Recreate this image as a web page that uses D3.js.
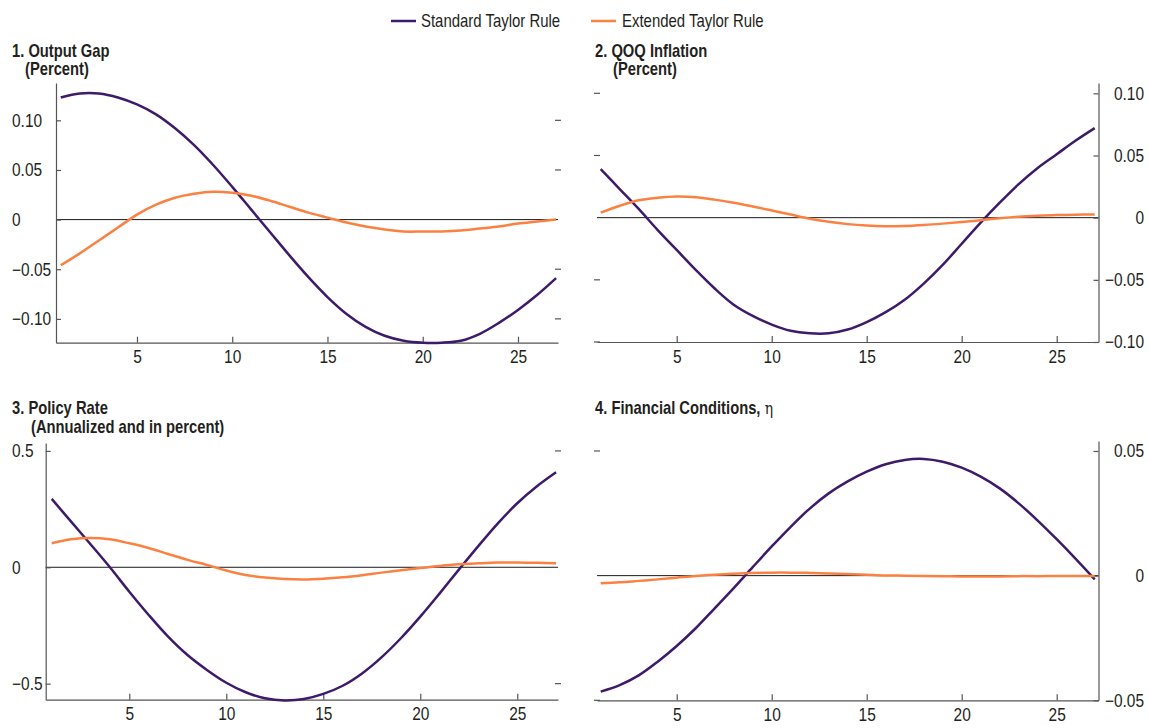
<!DOCTYPE html>
<html>
<head>
<meta charset="utf-8">
<script src="https://cdn.jsdelivr.net/npm/d3@7"></script>
<style>
  body { margin: 0; background: #fff; }
  svg text { font-family: "Liberation Sans", Arial, Helvetica, sans-serif; fill: #231f20; }
</style>
</head>
<body>
<div id="chart"></div>
<script>
// quarters after the shock
const quarters = [1,2,3,4,5,6,7,8,9,10,11,12,13,14,15,16,17,18,19,20,21,22,23,24,25,26,27];
const xTicks = [5, 10, 15, 20, 25];

const seriesNames = ['Standard Taylor Rule', 'Extended Taylor Rule'];
const seriesColors = ['#3d1a6a', '#fb8142'];

// 1. Output gap (percent)
const outputGapStd = [0.123,0.127,0.127,0.123,0.116,0.106,0.092,0.075,0.055,0.033,0.010,-0.013,-0.036,-0.058,-0.078,-0.095,-0.108,-0.117,-0.122,-0.124,-0.124,-0.122,-0.115,-0.104,-0.091,-0.076,-0.059];
const outputGapExt = [-0.046,-0.034,-0.021,-0.008,0.005,0.015,0.022,0.026,0.028,0.027,0.024,0.019,0.013,0.007,0.002,-0.003,-0.007,-0.010,-0.012,-0.012,-0.012,-0.011,-0.009,-0.007,-0.004,-0.002,0.000];
const outputGapTicks = [-0.10, -0.05, 0, 0.05, 0.10];

// 2. QOQ inflation (percent)
const inflationStd = [0.039,0.023,0.007,-0.010,-0.026,-0.042,-0.057,-0.070,-0.079,-0.086,-0.091,-0.093,-0.093,-0.090,-0.084,-0.076,-0.066,-0.053,-0.038,-0.021,-0.004,0.012,0.027,0.040,0.051,0.062,0.072];
const inflationExt = [0.004,0.0096,0.014,0.016,0.017,0.0165,0.0145,0.012,0.009,0.0058,0.0025,-0.0008,-0.0033,-0.0052,-0.0064,-0.0069,-0.0067,-0.0059,-0.0048,-0.0035,-0.0020,-0.0005,0.0007,0.0015,0.0021,0.0024,0.0025];
const inflationTicks = [-0.10, -0.05, 0, 0.05, 0.10];

// 3. Policy rate (annualized, percent)
const policyStd = [0.294,0.196,0.099,0.0,-0.105,-0.205,-0.298,-0.377,-0.441,-0.496,-0.537,-0.563,-0.572,-0.566,-0.544,-0.509,-0.456,-0.387,-0.305,-0.212,-0.112,-0.009,0.092,0.189,0.275,0.347,0.408];
const policyExt = [0.103,0.120,0.126,0.120,0.103,0.083,0.057,0.032,0.010,-0.014,-0.033,-0.044,-0.050,-0.052,-0.049,-0.043,-0.034,-0.023,-0.013,-0.003,0.006,0.013,0.017,0.020,0.020,0.019,0.017];
const policyTicks = [-0.5, 0, 0.5];

// 4. Financial conditions, eta
const finCondStd = [-0.0465,-0.0439,-0.0400,-0.0345,-0.0282,-0.0211,-0.0131,-0.0050,0.0034,0.0117,0.0196,0.0269,0.0330,0.0378,0.0417,0.0447,0.0464,0.0468,0.0457,0.0433,0.0397,0.0350,0.0290,0.0221,0.0146,0.0067,-0.0015];
const finCondExt = [-0.0031,-0.0027,-0.0021,-0.0015,-0.0008,-0.0001,0.0004,0.0008,0.0011,0.0012,0.0012,0.0011,0.0009,0.0007,0.0004,0.0001,0.0,-0.0001,-0.0002,-0.0003,-0.0003,-0.0003,-0.0002,-0.0002,-0.0001,-0.0001,-0.0001];
const finCondTicks = [-0.05, 0, 0.05];

const width = 1149, height = 728;

let fmt2 = d => d === 0 ? '0' : d3.format('.2f')(d);
let fmt1 = d => d === 0 ? '0' : d3.format('.1f')(d);

// panel layout
const panels = [
  { title: '1. Output Gap', sub: '(Percent)', tx: 12, ty: 57, sx: 25, sy: 75,
    side: 'left', xr: [56, 558], xd: [0.75, 27.1], yr: [342.7, 83], yd: [-0.124, 0.1376],
    ticks: outputGapTicks, fmt: fmt2, data: [outputGapStd, outputGapExt] },
  { title: '2. QOQ Inflation', sub: '(Percent)', tx: 595, ty: 57, sx: 613, sy: 75,
    side: 'right', xr: [597, 1098.5], xd: [0.805, 27.2], yr: [342, 83], yd: [-0.1, 0.1083],
    ticks: inflationTicks, fmt: fmt2, data: [inflationStd, inflationExt] },
  { title: '3. Policy Rate', sub: '(Annualized and in percent)', tx: 12, ty: 414, sx: 31, sy: 433,
    side: 'left', xr: [45.7, 558], xd: [0.69, 27.1], yr: [699.7, 443], yd: [-0.569, 0.534],
    ticks: policyTicks, fmt: fmt1, data: [policyStd, policyExt] },
  { title: '4. Financial Conditions,', sub: null, eta: true, tx: 595, ty: 414,
    side: 'right', xr: [597, 1098.5], xd: [0.805, 27.2], yr: [700.3, 441], yd: [-0.05, 0.054],
    ticks: finCondTicks, fmt: fmt2, data: [finCondStd, finCondExt] }
];

// squeeze text horizontally so it looks like the condensed face of the original
function condense(sel, k) {
  sel.each(function() {
    let t = d3.select(this);
    let tx = +t.attr('x') || 0, ty = +t.attr('y') || 0;
    t.attr('x', 0).attr('y', 0)
      .attr('transform', `translate(${tx},${ty}) scale(${k},1)`);
  });
}

let svg = d3.select('#chart').append('svg')
  .attr('width', width)
  .attr('height', height);

// legend
let legend = svg.append('g').attr('class', 'legend');
[[391, 421], [591, 622]].forEach((pos, i) => {
  legend.append('line')
    .attr('x1', pos[0]).attr('x2', pos[0] + 25)
    .attr('y1', 21).attr('y2', 21)
    .attr('stroke', seriesColors[i]).attr('stroke-width', 2.5);
  legend.append('text')
    .attr('x', pos[1]).attr('y', 27)
    .attr('font-size', 18)
    .text(seriesNames[i])
    .call(condense, 0.83);
});

panels.forEach(drawPanel);

function drawPanel(p) {
  let x = d3.scaleLinear().domain(p.xd).range(p.xr);
  let y = d3.scaleLinear().domain(p.yd).range(p.yr);
  let g = svg.append('g').attr('class', 'panel');

  // titles
  let t = g.append('text')
    .attr('x', p.tx).attr('y', p.ty)
    .attr('font-size', 18).attr('font-weight', 'bold')
    .text(p.title);
  if (p.eta) {
    t.append('tspan')
      .attr('font-family', '"DejaVu Serif", "Liberation Serif", serif')
      .attr('font-weight', 'normal')
      .attr('font-size', 17)
      .text(' \u03b7');
  }
  t.call(condense, 0.82);
  if (p.sub) {
    g.append('text')
      .attr('x', p.sx).attr('y', p.sy)
      .attr('font-size', 18).attr('font-weight', 'bold')
      .text(p.sub)
      .call(condense, 0.82);
  }

  // zero line
  g.append('line')
    .attr('x1', p.xr[0]).attr('x2', p.xr[1])
    .attr('y1', y(0)).attr('y2', y(0))
    .attr('stroke', '#1a1a1a').attr('stroke-width', 1);

  // x axis, ticks pointing up
  let xAxis = d3.axisBottom(x).tickValues(xTicks)
    .tickSizeInner(-6).tickSizeOuter(0).tickPadding(8);
  let xg = g.append('g')
    .attr('transform', `translate(0,${p.yr[0]})`)
    .call(xAxis);

  // y axis, ticks pointing inward
  let left = p.side === 'left';
  let ax = left ? p.xr[0] : p.xr[1];
  let yAxis = (left ? d3.axisLeft(y) : d3.axisRight(y))
    .tickValues(p.ticks).tickFormat(p.fmt)
    .tickSizeInner(-5).tickSizeOuter(0);
  let yg = g.append('g')
    .attr('transform', `translate(${ax},0)`)
    .call(yAxis);
  yg.selectAll('text')
    .attr('x', left ? 12 - ax : 1144 - ax)
    .attr('text-anchor', left ? 'start' : 'end');

  [xg, yg].forEach(a => {
    a.attr('font-family', null).attr('font-size', 18);
    a.select('.domain').attr('stroke', '#555').attr('stroke-width', 1.2);
    a.selectAll('.tick line').attr('stroke', '#555').attr('stroke-width', 1.2);
    a.selectAll('.tick text').call(condense, 0.86);
  });

  // little mirror ticks on the other side
  let mx = left ? p.xr[1] : p.xr[0];
  g.selectAll('line.mirror')
    .data(p.ticks.filter(d => d !== 0))
    .enter().append('line')
    .attr('class', 'mirror')
    .attr('x1', mx - 3).attr('x2', mx + 3)
    .attr('y1', d => y(d)).attr('y2', d => y(d))
    .attr('stroke', '#555').attr('stroke-width', 1.2);

  // series lines
  let line = d3.line()
    .x((d, i) => x(quarters[i]))
    .y(d => y(d))
    .curve(d3.curveCatmullRom.alpha(0.5));

  g.selectAll('path.series')
    .data(p.data)
    .enter().append('path')
    .attr('class', 'series')
    .attr('fill', 'none')
    .attr('stroke', (d, i) => seriesColors[i])
    .attr('stroke-width', 2.5)
    .attr('d', line);

  // draw extended on top of standard, like the reference
  g.selectAll('path.series').filter((d, i) => i === 1).raise();
}
</script>
</body>
</html>
